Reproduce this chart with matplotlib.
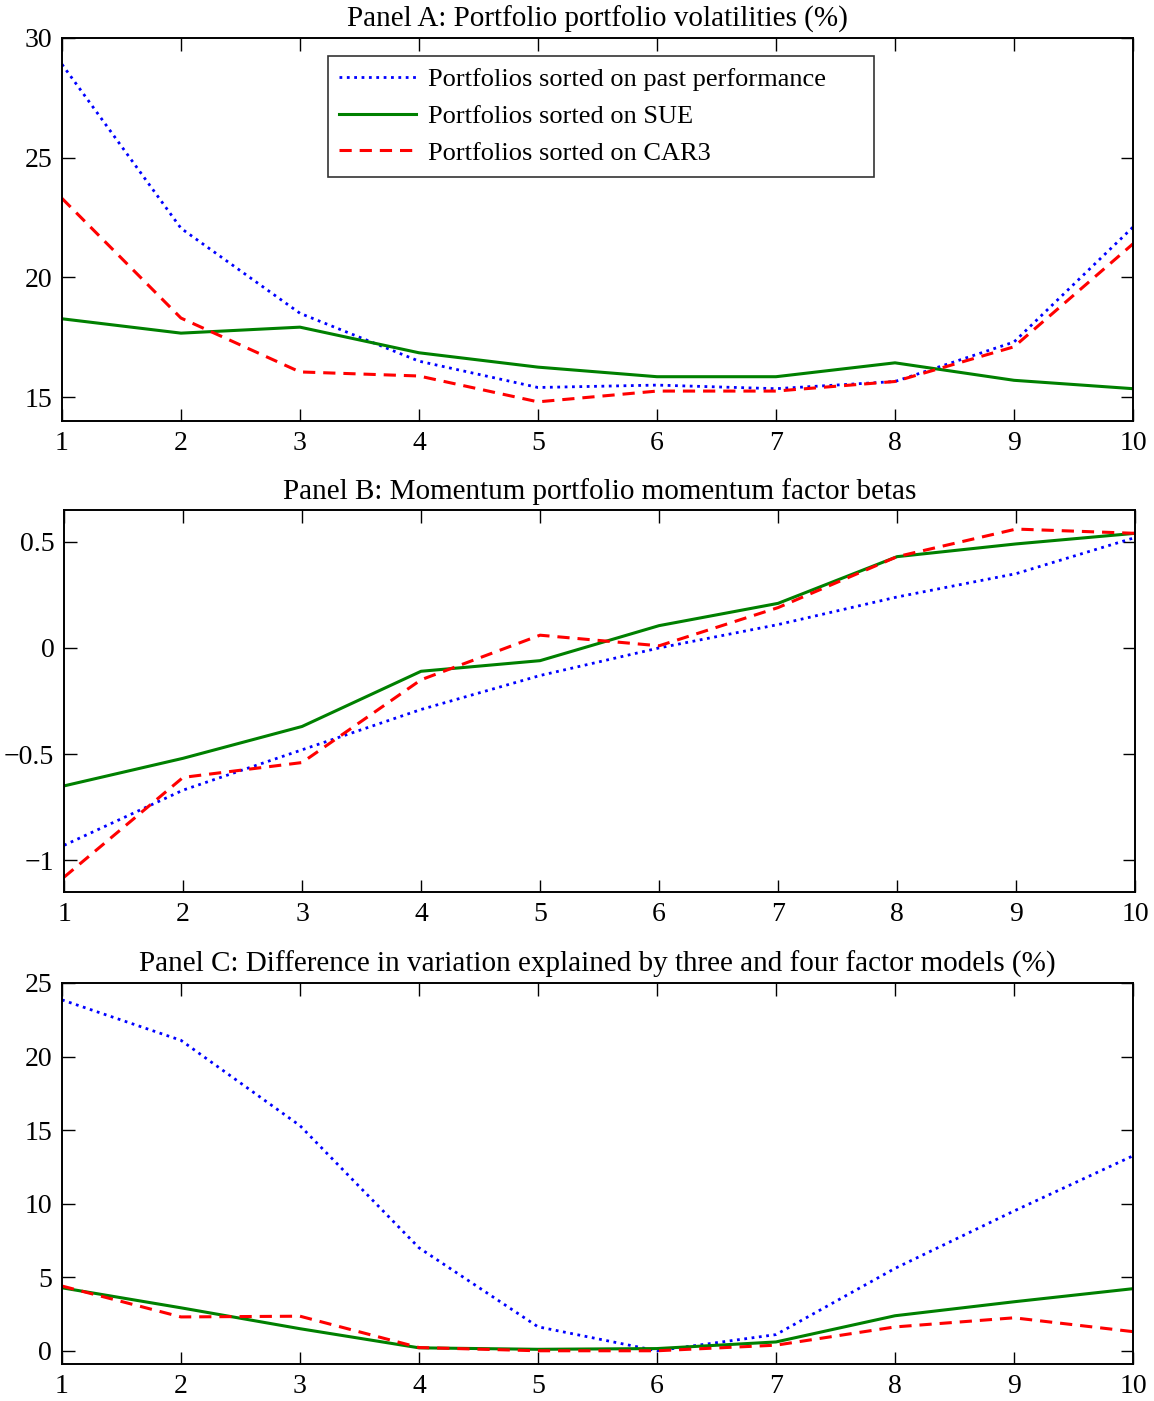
import numpy as np
import matplotlib
matplotlib.use('Agg')
import matplotlib.pyplot as plt

plt.rcParams['font.family'] = ['Liberation Serif', 'DejaVu Serif']
plt.rcParams['mathtext.fontset'] = 'stix'

deciles = [1, 2, 3, 4, 5, 6, 7, 8, 9, 10]
labels = ['Portfolios sorted on past performance',
          'Portfolios sorted on SUE',
          'Portfolios sorted on CAR3']

# Panel A: volatilities (%)
vol_past = [28.9, 22.05, 18.5, 16.5, 15.4, 15.5, 15.35, 15.65, 17.3, 22.1]
vol_sue = [18.27, 17.67, 17.92, 16.85, 16.25, 15.85, 15.85, 16.43, 15.7, 15.35]
vol_car3 = [23.3, 18.3, 16.05, 15.88, 14.8, 15.25, 15.25, 15.65, 17.1, 21.4]

# Panel B: momentum factor betas
beta_past = [-0.93, -0.67, -0.48, -0.29, -0.13, 0.0, 0.11, 0.24, 0.35, 0.52]
beta_sue = [-0.65, -0.52, -0.37, -0.11, -0.06, 0.105, 0.21, 0.43, 0.49, 0.54]
beta_car3 = [-1.08, -0.61, -0.54, -0.15, 0.06, 0.01, 0.19, 0.43, 0.56, 0.54]

# Panel C: difference in explained variation (%)
diff_past = [23.85, 21.1, 15.3, 7.0, 1.63, 0.0, 1.1, 5.6, 9.5, 13.25]
diff_sue = [4.28, 2.92, 1.5, 0.2, 0.1, 0.15, 0.6, 2.38, 3.33, 4.22]
diff_car3 = [4.4, 2.3, 2.35, 0.22, 0.0, 0.0, 0.38, 1.62, 2.24, 1.3]

titles = ['Panel A: Portfolio portfolio volatilities (%)',
          'Panel B: Momentum portfolio momentum factor betas',
          'Panel C: Difference in variation explained by three and four factor models (%)']

fig = plt.figure(figsize=(11.54, 14.01), dpi=100)

positions = [[0.0537, 0.6995, 0.9281, 0.2734],
             [0.0555, 0.3633, 0.9281, 0.2727],
             [0.0537, 0.0264, 0.9281, 0.2720]]
ylims = [(14, 30), (-1.15, 0.65), (-0.9, 25)]
yticks = [[15, 20, 25, 30], [-1, -0.5, 0, 0.5], [0, 5, 10, 15, 20, 25]]
yticklabels = [['15', '20', '25', '30'],
               ['\u22121', '\u22120.5', '0', '0.5'],
               ['0', '5', '10', '15', '20', '25']]
panels = [(vol_past, vol_sue, vol_car3),
          (beta_past, beta_sue, beta_car3),
          (diff_past, diff_sue, diff_car3)]

for k in range(3):
    ax = fig.add_axes(positions[k])
    past, sue, car3 = panels[k]
    ax.plot(deciles, past, color='#0000ff', linestyle=':', lw=2.0, label=labels[0])
    ax.plot(deciles, sue, color='#008000', linestyle='-', lw=2.2, label=labels[1])
    ax.plot(deciles, car3, color='#ff0000', linestyle='--', dashes=(4, 2.6), lw=2.2,
            label=labels[2])

    ax.set_xlim(1, 10)
    ax.set_ylim(*ylims[k])
    ax.set_xticks(deciles)
    ax.set_yticks(yticks[k])
    ax.set_yticklabels(yticklabels[k])
    ax.tick_params(direction='in', top=True, right=True, length=9, width=1.0,
                   labelsize=20, pad=7)
    for spine in ['left', 'right', 'top', 'bottom']:
        ax.spines[spine].set_linewidth(1.4)
    ax.set_title(titles[k], fontsize=21, pad=8)

    if k == 0:
        # expand mode stretches the frame to the MATLAB-like width
        leg = ax.legend(loc='upper left', bbox_to_anchor=(0.248, 0.0, 0.51, 0.953),
                        mode='expand', borderaxespad=0, fancybox=False, fontsize=19,
                        handlelength=2.9, handletextpad=0.45,
                        labelspacing=0.5, borderpad=0.45)
        leg.get_frame().set_edgecolor('black')
        leg.get_frame().set_linewidth(1.2)

fig.savefig('out.png', dpi=100)
